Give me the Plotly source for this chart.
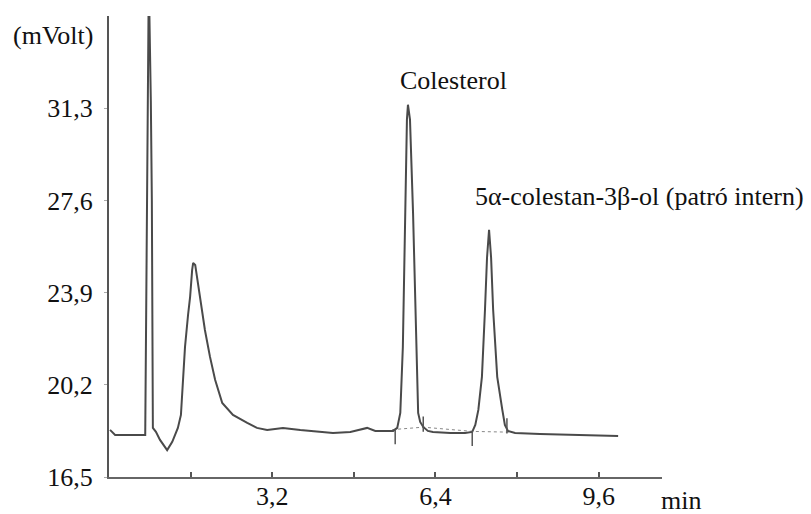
import plotly.graph_objects as go

# Chromatogram trace (time in min, signal in mVolt)
time_min = [0.02, 0.12, 0.71, 0.74, 0.78, 0.82, 0.84, 0.86, 0.92, 1.00, 1.14, 1.24,
            1.35, 1.41, 1.45, 1.49, 1.55, 1.59, 1.63, 1.65, 1.69, 1.75, 1.78, 1.88,
            1.98, 2.08, 2.22, 2.43, 2.71, 2.90, 3.10, 3.41, 3.75, 4.39, 4.73, 5.06,
            5.22, 5.57, 5.65, 5.71, 5.76, 5.80, 5.84, 5.86, 5.90, 5.96, 6.02, 6.06,
            6.10, 6.16, 6.25, 6.35, 6.69, 6.98, 7.12, 7.18, 7.24, 7.31, 7.37, 7.41,
            7.45, 7.49, 7.53, 7.61, 7.71, 7.76, 7.82, 7.96, 8.45, 9.04, 9.63, 9.98]
signal_mv = [18.39, 18.19, 18.19, 27.6, 36.5, 31.6, 27.6, 18.47, 18.31, 17.99, 17.58, 17.91,
             18.47, 18.99, 20.40, 21.72, 23.01, 23.73, 24.81, 25.09, 25.01, 24.21, 23.73, 22.40,
             21.32, 20.40, 19.47, 18.99, 18.67, 18.47, 18.39, 18.47, 18.39, 18.27, 18.31, 18.47,
             18.35, 18.35, 18.47, 19.07, 21.72, 27.10, 30.84, 31.44, 30.84, 27.10, 21.72, 19.07,
             18.71, 18.51, 18.35, 18.31, 18.27, 18.27, 18.31, 18.59, 19.19, 20.52, 23.21, 25.30,
             26.42, 25.30, 23.21, 20.52, 19.19, 18.59, 18.35, 18.27, 18.23, 18.19, 18.15, 18.15]

# integration baseline (dotted) and peak start/end marks
base_time = [5.55, 6.16, 7.12, 7.85]
base_signal = [18.40, 18.50, 18.33, 18.30]
mark_time = [5.61, 6.16, 7.12, 7.80]
mark_signal = [18.12, 18.62, 18.05, 18.55]

# axis ticks
y_tickvals = [16.5, 20.2, 23.9, 27.6, 31.3]
y_ticktext = ["16,5", "20,2", "23,9", "27,6", "31,3"]
x_tickvals = [1.6, 3.2, 4.8, 6.4, 8.0, 9.6]
x_ticktext = ["", "3,2", "", "6,4", "", "9,6"]

peak_labels = ["Colesterol", "5α-colestan-3β-ol (patró intern)"]
peak_label_x = [5.66, 7.13]
peak_label_y = [32.4, 27.75]

FONT = "Liberation Serif"
FS = 26

fig = go.Figure()
fig.add_trace(go.Scatter(x=base_time, y=base_signal, mode="lines",
                         line=dict(color="#888", width=1, dash="dot"),
                         hoverinfo="skip", showlegend=False))
fig.add_trace(go.Scatter(x=time_min, y=signal_mv, mode="lines",
                         line=dict(color="#4a4a4a", width=2),
                         showlegend=False))
fig.add_trace(go.Scatter(x=mark_time, y=mark_signal, mode="markers",
                         marker=dict(symbol="line-ns", size=11,
                                     line=dict(color="#555", width=1.5)),
                         hoverinfo="skip", showlegend=False))

for txt, xx, yy in zip(peak_labels, peak_label_x, peak_label_y):
    fig.add_annotation(x=xx, y=yy, xref="x", yref="y", text=txt, showarrow=False,
                       xanchor="left", yanchor="middle",
                       font=dict(family=FONT, size=FS, color="#111"))

fig.add_annotation(x=-0.026, y=0.958, xref="paper", yref="paper", text="(mVolt)",
                   showarrow=False, xanchor="right", yanchor="middle",
                   font=dict(family=FONT, size=FS, color="#111"))
fig.add_annotation(x=0.994, y=-0.052, xref="paper", yref="paper", text="min",
                   showarrow=False, xanchor="left", yanchor="middle",
                   font=dict(family=FONT, size=FS, color="#111"))

fig.update_layout(
    width=811, height=514,
    margin=dict(l=109, r=149, t=16, b=37),
    paper_bgcolor="white", plot_bgcolor="white",
    showlegend=False,
    font=dict(family=FONT),
)
fig.update_xaxes(range=[0, 10.84], showgrid=False, zeroline=False, automargin=False,
                 showline=True, linecolor="#666", linewidth=1.5,
                 ticks="inside", ticklen=5, tickcolor="#555", tickwidth=1.5,
                 tickvals=x_tickvals, ticktext=x_ticktext,
                 tickfont=dict(family=FONT, size=FS, color="#111"),
                 ticklabelstandoff=-5)
fig.update_yaxes(range=[16.5, 35.0], showgrid=False, zeroline=False, automargin=False,
                 showline=True, linecolor="#555", linewidth=2,
                 ticks="outside", ticklen=3, tickcolor="#aaa",
                 tickvals=y_tickvals, ticktext=y_ticktext,
                 tickfont=dict(family=FONT, size=FS, color="#111"),
                 ticklabelstandoff=6)

fig.write_html("out.html")
